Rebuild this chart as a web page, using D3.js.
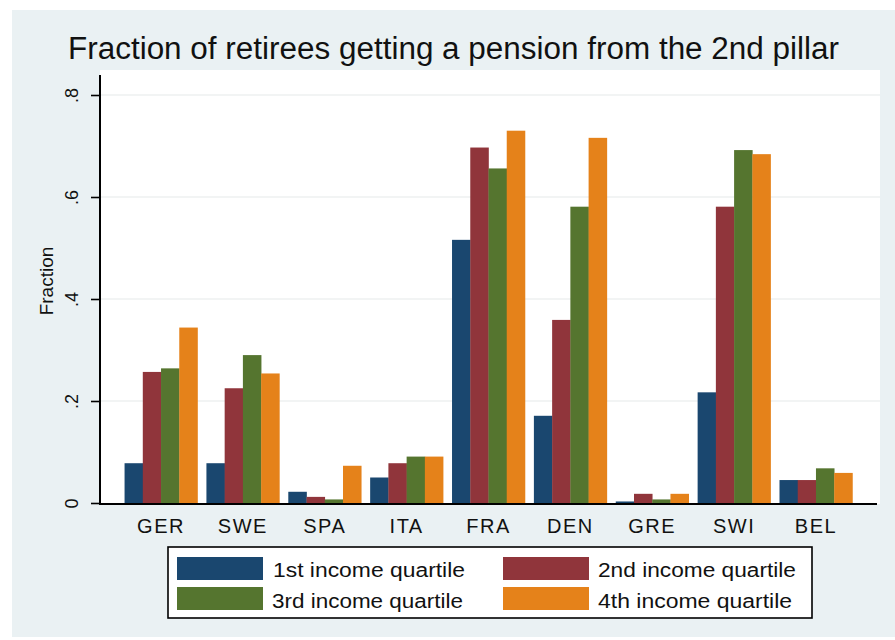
<!DOCTYPE html>
<html>
<head>
<meta charset="utf-8">
<script src="https://cdn.jsdelivr.net/npm/d3@7"></script>
<style>
  html, body { margin: 0; padding: 0; background: #ffffff; }
  svg { display: block; }
  text { font-family: "Liberation Sans", Arial, "DejaVu Sans", sans-serif; fill: #111; }
</style>
</head>
<body>
<svg id="chart" width="895" height="640"></svg>
<script>
// ---------------- DATA ----------------
const categories = ["GER", "SWE", "SPA", "ITA", "FRA", "DEN", "GRE", "SWI", "BEL"];
const seriesNames = ["1st income quartile", "2nd income quartile", "3rd income quartile", "4th income quartile"];
const q1 = [0.078, 0.078, 0.022, 0.050, 0.516, 0.171, 0.003, 0.217, 0.045];
const q2 = [0.257, 0.225, 0.012, 0.078, 0.697, 0.359, 0.018, 0.581, 0.045];
const q3 = [0.264, 0.290, 0.007, 0.091, 0.656, 0.581, 0.007, 0.692, 0.068];
const q4 = [0.344, 0.254, 0.073, 0.091, 0.730, 0.716, 0.018, 0.684, 0.059];
const yTickValues = [0, 0.2, 0.4, 0.6, 0.8];
const yTickLabels = ["0", ".2", ".4", ".6", ".8"];
const titleText = "Fraction of retirees getting a pension from the 2nd pillar";
const yTitle = "Fraction";

const seriesValues = [q1, q2, q3, q4];
const colors = ["#1a476f", "#90353b", "#55752f", "#e5821a"];

// ---------------- LAYOUT ----------------
const svg = d3.select("#chart");
const plot = { left: 100, right: 880, top: 70, bottom: 504 };

// background regions
svg.append("rect").attr("x", 0).attr("y", 0).attr("width", 895).attr("height", 640).attr("fill", "#ffffff");
svg.append("rect").attr("x", 12).attr("y", 10).attr("width", 883).attr("height", 627).attr("fill", "#eaf1f3");
svg.append("rect").attr("x", plot.left).attr("y", plot.top)
  .attr("width", plot.right - plot.left).attr("height", plot.bottom - plot.top).attr("fill", "#ffffff");

// scales
const x = d3.scaleBand().domain(categories).range([100, 877]).paddingInner(0.109).paddingOuter(0.3);
const xs = d3.scaleBand().domain(d3.range(seriesNames.length)).range([0, x.bandwidth()]).padding(0);
const y = d3.scaleLinear().domain([0, 0.8]).range([503, 95]);

// gridlines
svg.append("g").selectAll("line").data(yTickValues.filter(v => v > 0)).join("line")
  .attr("x1", plot.left).attr("x2", plot.right)
  .attr("y1", d => y(d)).attr("y2", d => y(d))
  .attr("stroke", "#e6e9ea").attr("stroke-width", 1.2);

// bars
const groups = svg.append("g").selectAll("g").data(seriesValues).join("g")
  .attr("fill", (d, i) => colors[i]);
groups.selectAll("rect").data((vals, si) => vals.map((v, ci) => ({ v, ci, si }))).join("rect")
  .attr("x", d => x(categories[d.ci]) + xs(d.si))
  .attr("width", xs.bandwidth() + 0.3)
  .attr("y", d => y(d.v))
  .attr("height", d => y(0) - y(d.v));

// y axis
const yAxis = d3.axisLeft(y).tickValues(yTickValues).tickSize(9)
  .tickFormat((d, i) => yTickLabels[i]);
const yg = svg.append("g").attr("transform", "translate(100,0)").call(yAxis);
yg.select(".domain").remove();
yg.selectAll(".tick line").attr("stroke", "#000").attr("stroke-width", 1.6);
yg.selectAll(".tick text").remove();
yg.selectAll(".tick").append("text")
  .attr("transform", "translate(-22,0) rotate(-90)")
  .attr("text-anchor", "middle")
  .attr("font-size", 18)
  .attr("fill", "#111")
  .text((d, i) => yTickLabels[i]);
svg.append("line").attr("x1", 100).attr("x2", 100).attr("y1", 75).attr("y2", 505)
  .attr("stroke", "#000").attr("stroke-width", 2);

// x axis
const xAxis = d3.axisBottom(x).tickSize(0);
const xg = svg.append("g").attr("transform", "translate(0,503)").call(xAxis);
xg.select(".domain").remove();
xg.selectAll(".tick text").attr("font-size", 20).attr("dy", 0).attr("y", 30)
  .attr("letter-spacing", "1.5px").attr("fill", "#111");
svg.append("line").attr("x1", 99).attr("x2", 877).attr("y1", 504).attr("y2", 504)
  .attr("stroke", "#000").attr("stroke-width", 2);

// y title
svg.append("text").attr("transform", "translate(53,281) rotate(-90)")
  .attr("text-anchor", "middle").attr("font-size", 19).text(yTitle);

// title
svg.append("text").attr("x", 68).attr("y", 59)
  .attr("font-size", 31).attr("textLength", 771).attr("lengthAdjust", "spacingAndGlyphs")
  .attr("fill", "#1a1a1a")
  .text(titleText);

// legend
const legend = svg.append("g");
legend.append("rect").attr("x", 168).attr("y", 547).attr("width", 644).attr("height", 71)
  .attr("fill", "#ffffff").attr("stroke", "#000").attr("stroke-width", 1.6);
const legendPos = [
  { sx: 177, sy: 557, tx: 273, ty: 577, tl: 192 },
  { sx: 503, sy: 557, tx: 598, ty: 577, tl: 198 },
  { sx: 177, sy: 587, tx: 272, ty: 608, tl: 191 },
  { sx: 503, sy: 587, tx: 598, ty: 608, tl: 194 }
];
seriesNames.forEach((name, i) => {
  const p = legendPos[i];
  legend.append("rect").attr("x", p.sx).attr("y", p.sy).attr("width", 86).attr("height", 23).attr("fill", colors[i]);
  legend.append("text").attr("x", p.tx).attr("y", p.ty).attr("font-size", 20)
    .attr("textLength", p.tl).attr("lengthAdjust", "spacingAndGlyphs").text(name);
});
</script>
</body>
</html>
